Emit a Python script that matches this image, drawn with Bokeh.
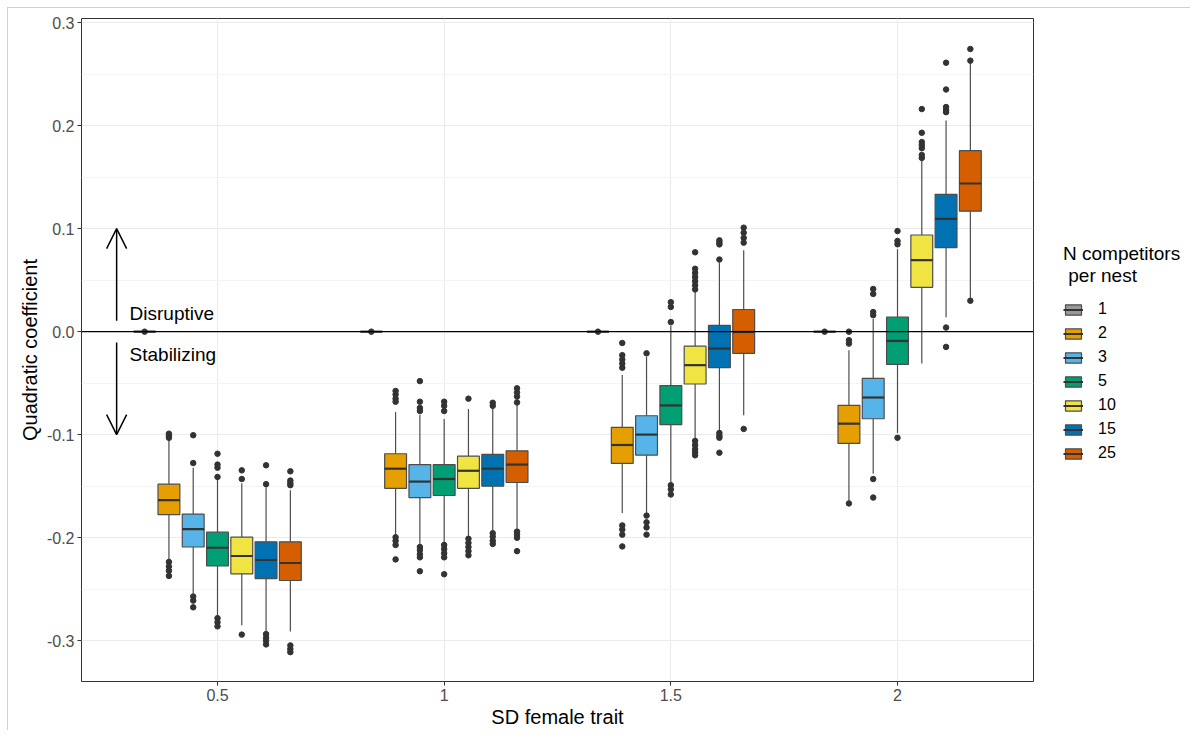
from bokeh.plotting import figure
from bokeh.layouts import row
from bokeh.models import (ColumnDataSource, Range1d, FixedTicker, Span, Arrow, OpenHead,
                          Label, Legend, LegendItem, NumeralTickFormatter)
from bokeh.embed import file_html
from bokeh.resources import INLINE

FONT = "Liberation Sans"

# ---------------- data ----------------
sd_labels = ["0.5", "1", "1.5", "2"]
levels = ["1", "2", "3", "5", "10", "15", "25"]
colors = ["#999999", "#E69F00", "#56B4E9", "#009E73", "#F0E442", "#0072B2", "#D55E00"]

# rows: competitor level, columns: SD female trait (0.5, 1, 1.5, 2)
whisk_lo = [
    [0, 0, 0, 0],
    [-0.2216, -0.198, -0.176, -0.164],
    [-0.254, -0.208, -0.1776, -0.138],
    [-0.2755, -0.206, -0.148, -0.0983],
    [-0.285, -0.1995, -0.1047, -0.031],
    [-0.2925, -0.1946, -0.0976, 0.014],
    [-0.291, -0.191, -0.0812, 0.032],
]
q1 = [
    [0, 0, 0, 0],
    [-0.1776, -0.152, -0.1278, -0.1085],
    [-0.209, -0.161, -0.1198, -0.0845],
    [-0.2274, -0.159, -0.0903, -0.0318],
    [-0.235, -0.152, -0.0508, 0.043],
    [-0.2396, -0.150, -0.035, 0.0816],
    [-0.2415, -0.1464, -0.021, 0.1169],
]
median = [
    [0, 0, 0, 0],
    [-0.1635, -0.133, -0.110, -0.0893],
    [-0.1917, -0.1455, -0.0999, -0.0639],
    [-0.2097, -0.143, -0.0716, -0.009],
    [-0.2177, -0.135, -0.0325, 0.0694],
    [-0.2216, -0.133, -0.0164, 0.1095],
    [-0.2245, -0.129, -0.0003, 0.1438],
]
q3 = [
    [0, 0, 0, 0],
    [-0.148, -0.1185, -0.0928, -0.0716],
    [-0.177, -0.129, -0.0816, -0.0453],
    [-0.1946, -0.129, -0.0523, 0.0141],
    [-0.1994, -0.1208, -0.0141, 0.0938],
    [-0.204, -0.119, 0.006, 0.1333],
    [-0.204, -0.1156, 0.0215, 0.1756],
]
whisk_hi = [
    [0, 0, 0, 0],
    [-0.104, -0.078, -0.042, -0.018],
    [-0.132, -0.0806, -0.0244, 0.0125],
    [-0.143, -0.0848, 0.006, 0.080],
    [-0.147, -0.075, 0.0398, 0.166],
    [-0.151, -0.074, 0.067, 0.205],
    [-0.154, -0.071, 0.079, 0.261],
]
outliers = [
    [[0.0], [0.0], [0.0], [0.0]],
    [[-0.099, -0.101, -0.103, -0.2235, -0.228, -0.232, -0.237],
     [-0.0575, -0.061, -0.065, -0.068, -0.1995, -0.203, -0.207, -0.221],
     [-0.011, -0.0228, -0.027, -0.031, -0.035, -0.188, -0.192, -0.197, -0.2084],
     [0.0, -0.0083, -0.0116, -0.1667]],
    [[-0.1275, -0.1005, -0.257, -0.261, -0.2675],
     [-0.068, -0.074, -0.077, -0.048, -0.209, -0.212, -0.216, -0.219, -0.2325],
     [-0.021, -0.1785, -0.185, -0.19, -0.197],
     [0.016, 0.019, 0.0366, 0.0414, -0.143, -0.161]],
    [[-0.141, -0.129, -0.132, -0.1185, -0.278, -0.282, -0.286],
     [-0.068, -0.072, -0.077, -0.207, -0.211, -0.215, -0.219, -0.2354],
     [0.0093, 0.024, 0.0286, -0.149, -0.153, -0.158],
     [0.0848, 0.088, 0.0976, -0.103]],
    [[-0.143, -0.1346, -0.294],
     [-0.065, -0.201, -0.205, -0.209, -0.213, -0.217],
     [0.041, 0.045, 0.049, 0.053, 0.057, 0.061, 0.077, -0.106, -0.11, -0.114, -0.117, -0.12],
     [0.1686, 0.1715, 0.178, 0.181, 0.184, 0.193, 0.216]],
    [[-0.148, -0.1297, -0.2935, -0.297, -0.300, -0.3035],
     [-0.069, -0.072, -0.1956, -0.199, -0.203, -0.206],
     [0.070, 0.0847, 0.0866, 0.0886, -0.0983, -0.101, -0.103, -0.1175],
     [0.213, 0.215, 0.218, 0.235, 0.261, 0.004, -0.0148]],
    [[-0.1445, -0.147, -0.149, -0.1355, -0.3045, -0.308, -0.311],
     [-0.055, -0.059, -0.063, -0.0687, -0.194, -0.197, -0.200, -0.213],
     [0.0864, 0.091, 0.096, 0.1009, -0.0944],
     [0.263, 0.2743, 0.030]],
]

H = 730
# ---------------- main figure ----------------
p = figure(width=1036, height=H,
           x_range=Range1d(0.4, 4.6), y_range=Range1d(-0.3395, 0.3039),
           output_backend="svg", toolbar_location=None,
           min_border_left=81, min_border_right=3, min_border_top=18, min_border_bottom=45,
           x_axis_label="SD female trait", y_axis_label="Quadratic coefficient")
p.border_fill_color = None
p.background_fill_color = "white"
p.outline_line_color = "#333333"
p.outline_line_width = 1

p.xaxis.ticker = FixedTicker(ticks=[1, 2, 3, 4])
p.xaxis.major_label_overrides = {1: "0.5", 2: "1", 3: "1.5", 4: "2"}
p.yaxis.ticker = FixedTicker(ticks=[-0.3, -0.2, -0.1, 0.0, 0.1, 0.2, 0.3],
                             minor_ticks=[-0.25, -0.15, -0.05, 0.05, 0.15, 0.25])
p.yaxis.formatter = NumeralTickFormatter(format="0.0")

for ax in p.axis:
    ax.axis_line_color = None
    ax.major_tick_line_color = "#333333"
    ax.major_tick_out = 4
    ax.major_tick_in = 0
    ax.minor_tick_line_color = None
    ax.major_label_text_font = FONT
    ax.major_label_text_font_size = "16px"
    ax.major_label_text_color = "#4D4D4D"
    ax.axis_label_text_font = FONT
    ax.axis_label_text_font_size = "20px"
    ax.axis_label_text_font_style = "normal"
    ax.axis_label_text_color = "black"
p.xaxis.major_label_standoff = 3
p.xaxis.axis_label_standoff = 2
p.yaxis.major_label_standoff = 3
p.yaxis.axis_label_standoff = 3

p.xgrid.grid_line_color = "#EBEBEB"
p.ygrid.grid_line_color = "#EBEBEB"
p.ygrid.minor_grid_line_color = "#F4F4F4"

dodge = 0.75 / 7
bw = dodge * 0.9
for j, lv in enumerate(levels):
    xs = [g + 1 + (j - 3) * dodge for g in range(4)]
    src = ColumnDataSource(dict(
        x=xs, left=[x - bw / 2 for x in xs], right=[x + bw / 2 for x in xs],
        lo=whisk_lo[j], q1=q1[j], med=median[j], q3=q3[j], hi=whisk_hi[j]))
    p.segment(x0="x", y0="q3", x1="x", y1="hi", source=src, line_color="#4d4d4d", line_width=1.2)
    p.segment(x0="x", y0="lo", x1="x", y1="q1", source=src, line_color="#4d4d4d", line_width=1.2)
    p.quad(left="left", right="right", bottom="q1", top="q3", source=src,
           fill_color=colors[j], line_color="#4d4d4d", line_width=1.2)
    p.segment(x0="left", y0="med", x1="right", y1="med", source=src,
              line_color="#333333", line_width=2.2)
    ox, oy = [], []
    for g in range(4):
        for v in outliers[j][g]:
            ox.append(xs[g])
            oy.append(v)
    p.scatter(ox, oy, size=5.5, color="#333333")

p.add_layout(Span(location=0, dimension="width", line_color="black", line_width=1.2))

ax_x = 0.555
p.add_layout(Arrow(end=OpenHead(size=20, line_width=1.5, line_color="black"),
                   x_start=ax_x, y_start=0.0106, x_end=ax_x, y_end=0.1,
                   line_width=1.5, line_color="black"))
p.add_layout(Arrow(end=OpenHead(size=20, line_width=1.5, line_color="black"),
                   x_start=ax_x, y_start=-0.0106, x_end=ax_x, y_end=-0.1,
                   line_width=1.5, line_color="black"))
p.add_layout(Label(x=0.612, y=0.0173, text="Disruptive", text_baseline="middle",
                   text_font=FONT, text_font_size="19px", text_color="black"))
p.add_layout(Label(x=0.612, y=-0.0222, text="Stabilizing", text_baseline="middle",
                   text_font=FONT, text_font_size="19px", text_color="black"))

# ---------------- legend panel ----------------
lg = figure(width=154, height=H, x_range=Range1d(0, 1), y_range=Range1d(0, 1),
            output_backend="svg", toolbar_location=None,
            min_border_left=0, min_border_right=0, min_border_top=0, min_border_bottom=0)
lg.axis.visible = False
lg.grid.visible = False
lg.outline_line_color = None
lg.border_fill_color = None
lg.background_fill_color = None

items = []
for j, lv in enumerate(levels):
    # key glyphs live outside the visible range of this legend-only panel
    rb = lg.quad(left=[5], right=[6], bottom=[5], top=[6], fill_color=colors[j],
                 line_color="#4d4d4d", line_width=1.2)
    rm = lg.segment(x0=[5], y0=[5], x1=[6], y1=[5], line_color="#333333", line_width=2)
    items.append(LegendItem(label=lv, renderers=[rb, rm]))

legend = Legend(items=items, title="N competitors\n per nest", location=(27, 218),
                margin=0, padding=10, spacing=4,
                glyph_width=20, glyph_height=13, label_height=20, label_standoff=15,
                border_line_color=None, background_fill_alpha=0,
                title_text_font=FONT, title_text_font_size="19px", title_text_font_style="normal",
                title_text_color="black", title_standoff=12,
                label_text_font=FONT, label_text_font_size="16px", label_text_color="black")
lg.add_layout(legend)

layout = row(p, lg, styles={
    "background": "linear-gradient(#d0d0d0,#d0d0d0) 7px 7px / 1px 100% no-repeat, "
                  "linear-gradient(#d0d0d0,#d0d0d0) 7px 7px / 100% 1px no-repeat, white"})

open("out.html", "w").write(file_html(layout, INLINE))
